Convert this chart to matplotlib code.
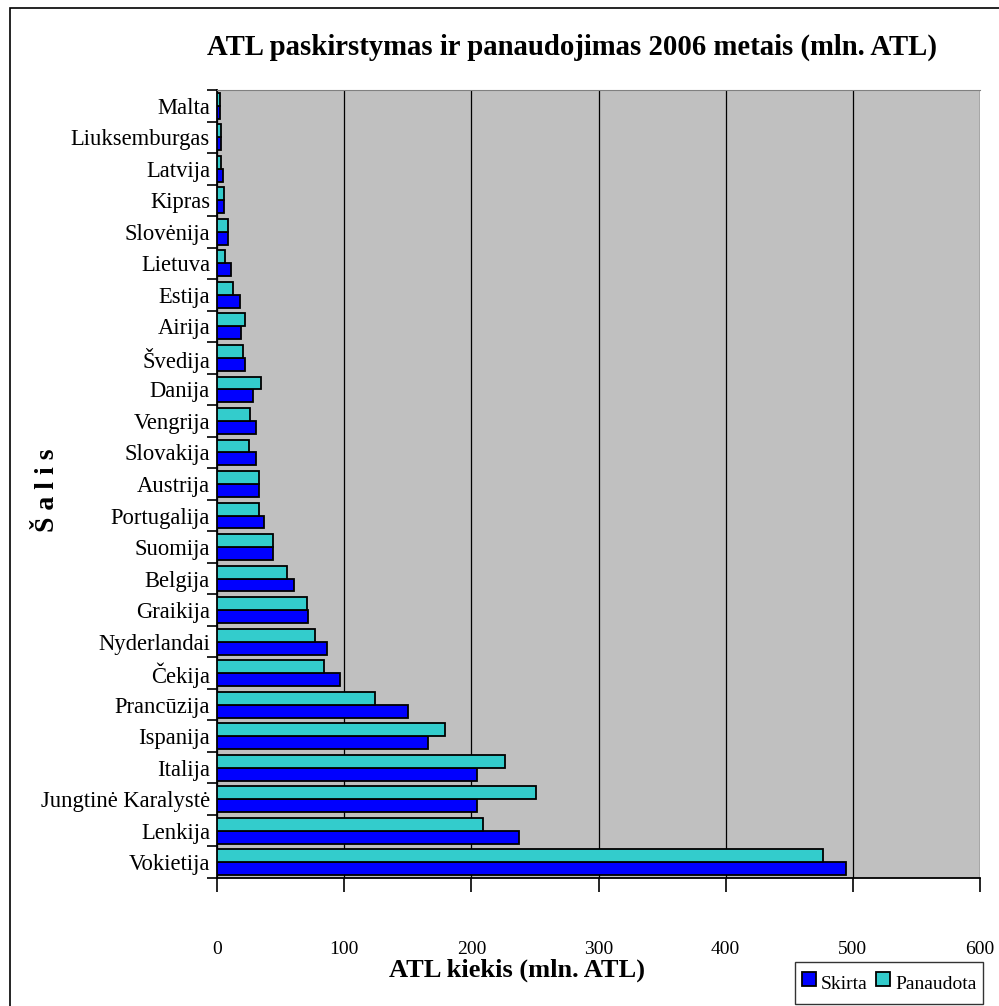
import matplotlib
matplotlib.use("Agg")
import matplotlib.pyplot as plt
import numpy as np
from matplotlib.patches import Rectangle
from matplotlib.lines import Line2D

countries = ["Malta", "Liuksemburgas", "Latvija", "Kipras", "Slovėnija", "Lietuva",
             "Estija", "Airija", "Švedija", "Danija", "Vengrija", "Slovakija",
             "Austrija", "Portugalija", "Suomija", "Belgija", "Graikija",
             "Nyderlandai", "Čekija", "Prancūzija", "Ispanija", "Italija",
             "Jungtinė Karalystė", "Lenkija", "Vokietija"]
skirta = [2.3, 3.4, 4.7, 5.5, 8.6, 10.7, 18.1, 19.1, 22.3, 28.6, 30.9, 30.9,
          32.8, 36.9, 44.3, 60.3, 71.5, 86.2, 96.7, 150.4, 165.9, 204.7,
          204.7, 237.2, 494.5]
panaudota = [2.3, 3.4, 3.0, 5.5, 8.6, 6.3, 12.6, 22.3, 20.2, 34.8, 26.2, 25.4,
             32.8, 32.8, 44.3, 54.8, 70.5, 76.8, 84.1, 124.0, 179.5, 226.7,
             250.5, 208.9, 476.4]
xticks = [0, 100, 200, 300, 400, 500, 600]

plt.rcParams['font.family'] = ['Liberation Serif', 'DejaVu Serif']

W, H = 999, 1006
fig = plt.figure(figsize=(W/100, H/100), dpi=100)
fig.patch.set_facecolor('white')

# outer chart border
fig.add_artist(Rectangle((10/W, -0.05), 1.2, 1 - 8/H + 0.05, transform=fig.transFigure,
                         fill=False, edgecolor='black', linewidth=1.2))

ax = fig.add_axes([217/W, (H-878)/H, (980-217)/W, (878-90)/H])
ax.set_facecolor('#C0C0C0')

n = len(countries)
pos = np.arange(n)[::-1]  # Malta at top, Vokietija at bottom
bh = 0.41
ax.barh(pos - bh/2, skirta, height=bh, color='#0000FF', edgecolor='black', linewidth=1.3, zorder=3, label='Skirta')
ax.barh(pos + bh/2, panaudota, height=bh, color='#33CCCC', edgecolor='black', linewidth=1.3, zorder=3, label='Panaudota')

ax.set_xlim(0, 600)
ax.set_ylim(-0.5, n - 0.5)
ax.set_xticks(xticks)
ax.set_xticklabels([str(v) for v in xticks], fontsize=14)
ax.set_yticks(pos)
ax.set_yticklabels(countries, fontsize=16.3)
ax.set_yticks(np.arange(-0.5, n, 1.0), minor=True)
ax.tick_params(axis='y', which='major', length=0, pad=5)
ax.tick_params(axis='y', which='minor', length=7, width=1.2, direction='out')
ax.tick_params(axis='x', which='major', length=10, width=1.2, direction='out', pad=35)
ax.grid(axis='x', color='black', linewidth=0.9, zorder=1)
ax.set_axisbelow(True)

ax.spines['left'].set_linewidth(1.3)
ax.spines['bottom'].set_linewidth(1.3)
ax.spines['top'].set_color('#808080')
ax.spines['right'].set_visible(False)

fig.text(572/W, 1 - 47/H, "ATL paskirstymas ir panaudojimas 2006 metais (mln. ATL)",
         ha='center', va='center', fontsize=20.7, fontweight='bold')
fig.text(517/W, 1 - 970/H, "ATL kiekis (mln. ATL)", ha='center', va='center',
         fontsize=19, fontweight='bold')
fig.text(48/W, 1 - 490/H, "Š a l i s", ha='center', va='center', rotation=90,
         fontsize=20, fontweight='bold')

# legend
handles = [Line2D([], [], marker='s', linestyle='none', markersize=10,
                  markerfacecolor='#0000FF', markeredgecolor='black', markeredgewidth=1.3),
           Line2D([], [], marker='s', linestyle='none', markersize=10,
                  markerfacecolor='#33CCCC', markeredgecolor='black', markeredgewidth=1.3)]
leg = fig.legend(handles, ['Skirta', 'Panaudota'], loc='upper left',
                 bbox_to_anchor=(795/W, 1 - 962/H), ncol=2, frameon=True, fancybox=False,
                 fontsize=14, handlelength=0.7, handleheight=1.9, handletextpad=0.3,
                 columnspacing=0.4, borderpad=0.35, borderaxespad=0)
leg.get_frame().set_edgecolor('black')
leg.get_frame().set_linewidth(1.0)

fig.savefig("out.png", dpi=100)
